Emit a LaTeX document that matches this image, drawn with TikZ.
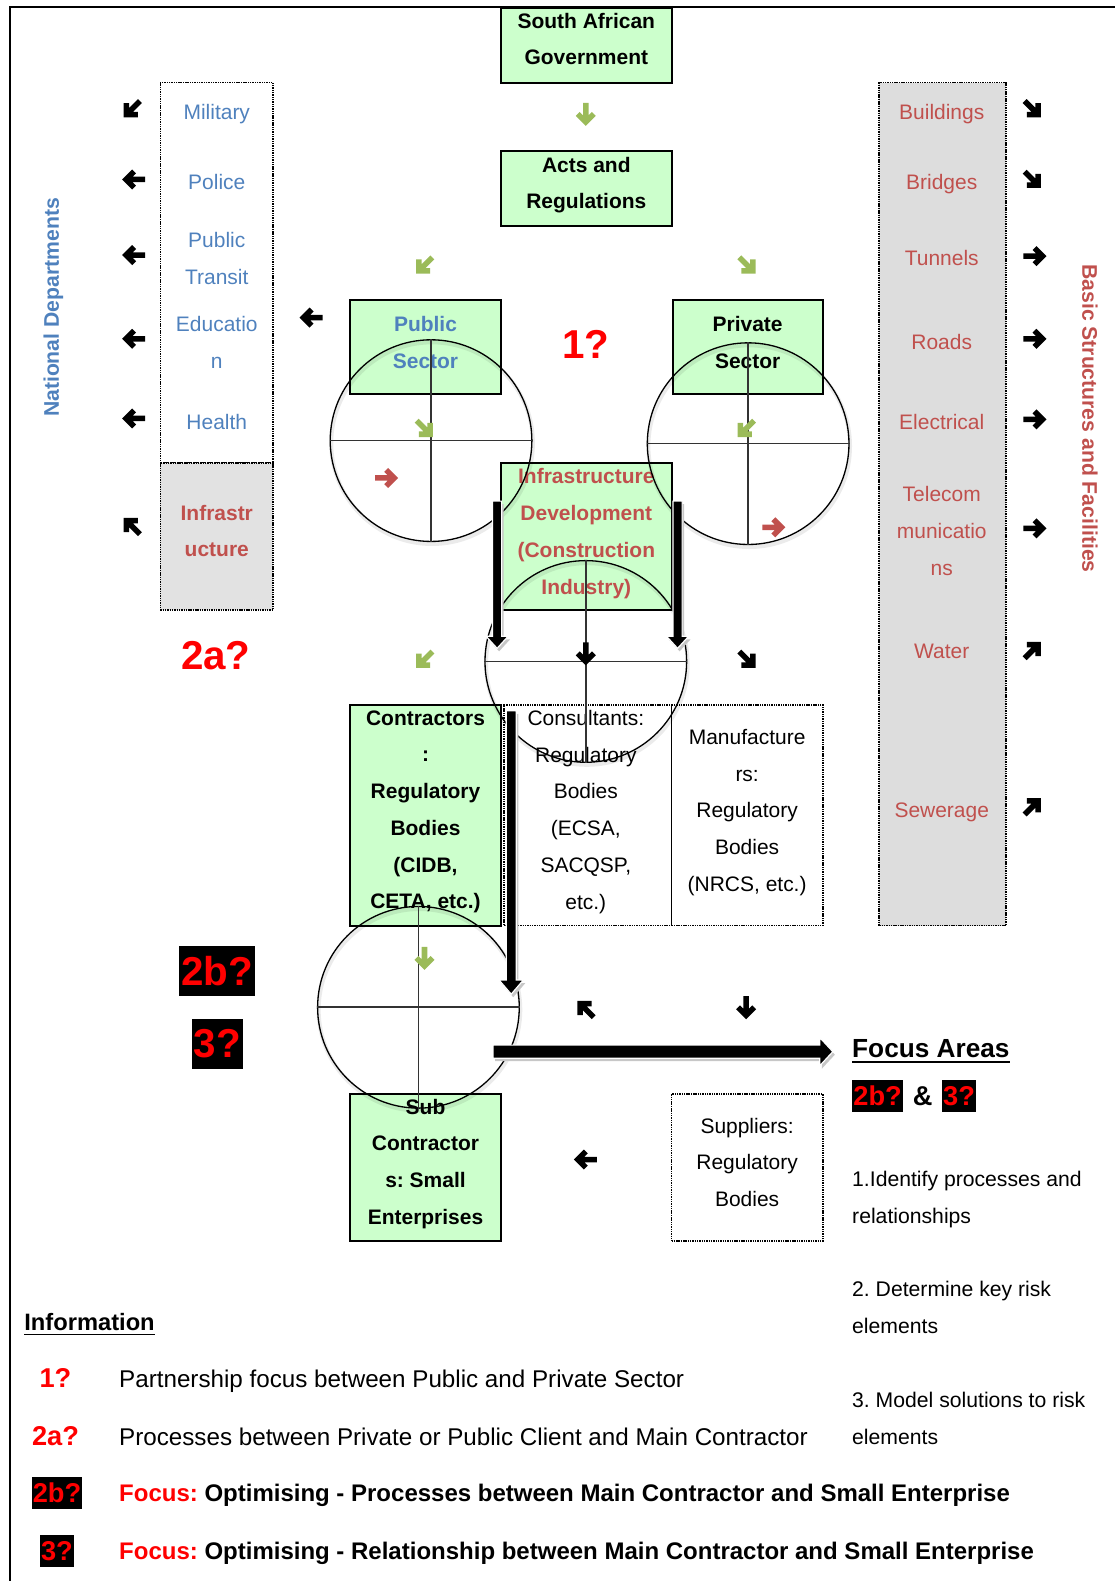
\documentclass[tikz,border=0pt]{standalone}
\usepackage{fontspec}
\setmainfont{Liberation Sans}
\frenchspacing
\definecolor{boxgreen}{RGB}{204,255,204}
\definecolor{argreen}{RGB}{155,187,89}
\definecolor{dred}{RGB}{192,80,77}
\definecolor{dblue}{RGB}{79,129,189}
\definecolor{colgrey}{RGB}{221,221,221}
\definecolor{hred}{RGB}{255,0,0}

% heavy chevron arrow glyph: x, y, direction angle, colour
\newcommand\darr[4]{\begin{scope}[shift={(#1,#2)},rotate=#3]
  \draw[#4,line width=5.5pt,line join=miter,miter limit=10] (-11,0) -- (6,0) (0,-8) -- (8,0) -- (0,8);
\end{scope}}
% thick block arrow with a soft shadow and a white rim
\newcommand\blockarr[1]{\fill[black!22,shift={(2,3)}] #1;
  \filldraw[fill=black,draw=white,line width=1.2pt] #1;}

\begin{document}
\begin{tikzpicture}[x=1pt,y=-1pt,
  gbox/.style={draw=black,line width=2pt,fill=boxgreen,inner sep=0pt,outer sep=0pt},
  dbox/.style={draw=black,line width=1.6pt,dash pattern=on 1.4pt off 0.9pt,inner sep=0pt,outer sep=0pt},
  tx/.style={inner sep=0pt,align=center,font=\fontsize{20.8}{36.4}\selectfont,
    execute at begin node=\strut},
  bx/.style={tx,font=\bfseries\fontsize{20.8}{36.4}\selectfont},
  ml/.style={yshift=-5.5pt},
  ring/.style={circle,draw=black,line width=1.3pt,minimum size=200pt,inner sep=0pt},
  ringsh/.style={circle,draw=black,draw opacity=0.08,line width=4pt,minimum size=200pt,inner sep=0pt},
  cross/.style={draw=black!80,line width=1.6pt},
  big/.style={inner sep=0pt,font=\bfseries\fontsize{40}{44}\selectfont,text=hred},
  qbig/.style={fill=black,text=hred,font=\bfseries\fontsize{40}{44}\selectfont,
    text height=29pt,text depth=0.5pt,inner ysep=10pt,inner xsep=2pt},
  qsmall/.style={fill=black,text=hred,font=\bfseries\fontsize{27}{30}\selectfont,
    text height=19.5pt,text depth=0.5pt,inner ysep=6pt,inner xsep=1.2pt},
  infot/.style={inner sep=0pt,anchor=west,font=\fontsize{24}{42}\selectfont,execute at begin node=\strut},
  infob/.style={infot,font=\bfseries\fontsize{23.8}{42}\selectfont},
  focl/.style={inner sep=0pt,anchor=west,align=left,font=\fontsize{21}{36.8}\selectfont,
    execute at begin node=\strut,ml},
  qlab/.style={inner sep=0pt,font=\bfseries\fontsize{27}{30}\selectfont,text=hred}]

\useasboundingbox (0,0) rectangle (1106,1568);

% page frame
\draw[line width=2pt] (10,1568) -- (10,7) -- (1106,7);

% side columns and dotted boxes
\node[dbox,minimum width=112pt,minimum height=377pt] (natcol) at (215,270.5) {};
\node[dbox,fill=colgrey!85,minimum width=112pt,minimum height=146pt] (natinf) at (215,532) {};
\node[dbox,fill=colgrey,minimum width=126pt,minimum height=836pt] (basecol) at (935,500) {};
\node[dbox,minimum width=166pt,minimum height=219pt] (cons) at (583,808.5) {};
\node[dbox,minimum width=150pt,minimum height=219pt] (manu) at (741,808.5) {};
\node[dbox,minimum width=150pt,minimum height=146pt] (supp) at (741,1158) {};

% green boxes
\node[gbox,minimum width=169pt,minimum height=75pt] (sag) at (581.5,45) {};
\node[gbox,minimum width=169pt,minimum height=74pt] (acts) at (581.5,187) {};
\node[gbox,minimum width=150pt,minimum height=93pt] (pub) at (422,344.5) {};
\node[gbox,minimum width=149pt,minimum height=93pt] (priv) at (741.5,344.5) {};
\node[gbox,minimum width=169pt,minimum height=146pt] (infra) at (581.5,532) {};
\node[gbox,minimum width=150pt,minimum height=219pt] (contr) at (422,808.5) {};
\node[gbox,minimum width=150pt,minimum height=146pt] (sub) at (422,1158) {};

% soft shadows under the quadrant rings
\node[ringsh] (cpub-s) at (428.5,439.5) {};
\node[ringsh] (cpriv-s) at (743,442.5) {};
\node[ringsh] (cmid-s) at (582,658.5) {};
\node[ringsh] (clow-s) at (416,1001.5) {};

% box texts
\node[bx,ml] (sag-t) at (581.5,38.5) {South African\\Government};
\node[bx,ml] (acts-t) at (581.5,181.5) {Acts and\\Regulations};
\node[bx,ml,text=dblue] (pub-t) at (422,339.5) {Public\\Sector};
\node[bx,ml] (priv-t) at (741.5,339.5) {Private\\Sector};
\node[big] (q1) at (581,342) {1?};
\node[bx,ml,text=dred] (infra-t) at (581.5,527) {Infrastructure\\Development\\(Construction\\Industry)};
\node[bx,ml] (contr-t) at (422,803) {Contractors\\:\\Regulatory\\Bodies\\(CIDB,\\CETA, etc.)};
\node[tx,ml] (cons-t) at (581,803) {Consultants:\\Regulatory\\Bodies\\(ECSA,\\SACQSP,\\etc.)};
\node[tx,ml] (manu-t) at (741,803.5) {Manufacture\\rs:\\Regulatory\\Bodies\\(NRCS, etc.)};
\node[bx,ml] (sub-t) at (422,1152) {Sub\\Contractor\\s: Small\\Enterprises};
\node[tx,ml] (supp-t) at (741,1152.5) {Suppliers:\\Regulatory\\Bodies};

% national departments column
\node[tx,text=dblue] (mil) at (215,111) {Military};
\node[tx,text=dblue] (pol) at (215,181) {Police};
\node[tx,ml,text=dblue] (tra) at (215,256) {Public\\Transit};
\node[tx,ml,text=dblue] (edu) at (215,339.5) {Educatio\\n};
\node[tx,text=dblue] (hea) at (215,419) {Health};
\node[bx,ml,text=dred] (inf) at (215,526.5) {Infrastr\\ucture};
\node[inner sep=0pt,rotate=90,text=dblue,font=\bfseries\fontsize{21}{24}\selectfont] (natdep) at (53,305) {National Departments};

% basic structures column
\node[tx,text=dred] (bld) at (934,111) {Buildings};
\node[tx,text=dred] (brg) at (934,181) {Bridges};
\node[tx,text=dred] (tun) at (934,256) {Tunnels};
\node[tx,text=dred] (rds) at (934,339) {Roads};
\node[tx,text=dred] (ele) at (934,419) {Electrical};
\node[tx,ml,text=dred] (tel) at (934,526.5) {Telecom\\municatio\\ns};
\node[tx,text=dred] (wat) at (934,646) {Water};
\node[tx,text=dred] (sew) at (934,803) {Sewerage};
\node[inner sep=0pt,rotate=-90,text=dred,font=\bfseries\fontsize{21}{24}\selectfont] (basic) at (1081,415) {Basic Structures and Facilities};

% question markers
\node[big] (q2a) at (214,650) {2a?};
\node[qbig] (q2b) at (215.5,963) {2b?};
\node[qbig] (q3) at (215.5,1035) {3?};

% focus areas
\node[inner sep=0pt,anchor=west,font=\bfseries\fontsize{26}{45}\selectfont,execute at begin node=\strut] (fa) at (845,1040) {Focus Areas};
\draw[line width=1.6pt] ([yshift=-4.5pt]fa.base west) -- ([yshift=-4.5pt]fa.base east);
\node[qsmall,anchor=west] (fa2b) at (845,1087) {2b?};
\node[inner sep=0pt,font=\bfseries\fontsize{27}{30}\selectfont] (famp) at (915,1087) {\&};
\node[qsmall,anchor=west] (fa3) at (934,1087) {3?};
\node[focl] (fl1) at (845,1187.5) {1.Identify processes and\\relationships};
\node[focl] (fl2) at (845,1297) {2. Determine key risk\\elements};
\node[focl] (fl3) at (845,1406.5) {3. Model solutions to risk\\elements};

% information legend
\node[inner sep=0pt,anchor=west,font=\bfseries\fontsize{23.5}{41}\selectfont,execute at begin node=\strut] (info) at (24,1311) {Information};
\draw[line width=1.5pt] ([yshift=-4.5pt]info.base west) -- ([yshift=-4.5pt]info.base east);
\node[qlab] (i1) at (55,1367) {1?};
\node[infot] (i1t) at (118,1368) {Partnership focus between Public and Private Sector};
\node[qlab] (i2) at (55,1424) {2a?};
\node[infot] (i2t) at (118,1425) {Processes between Private or Public Client and Main Contractor};
\node[qsmall] (i3) at (56.5,1481) {2b?};
\node[infob] (i3t) at (118,1481) {\textcolor{hred}{Focus:} Optimising - Processes between Main Contractor and Small Enterprise};
\node[qsmall] (i4) at (56.5,1538) {3?};
\node[infob] (i4t) at (118,1538) {\textcolor{hred}{Focus:} Optimising - Relationship between Main Contractor and Small Enterprise};

% quadrant rings
\node[ring] (cpub) at (427.5,437) {};
\node[ring] (cpriv) at (742,440) {};
\node[ring] (cmid) at (581,656) {};
\node[ring] (clow) at (415,999) {};
\foreach \c in {cpub,cpriv,cmid,clow}
  \draw[cross] (\c.north) -- (\c.south) (\c.west) -- (\c.east);

% green arrows
\darr{581}{113}{270}{argreen}
\darr{421}{263}{225}{argreen}
\darr{741}{263}{315}{argreen}
\darr{421}{425}{315}{argreen}
\darr{740}{425}{225}{argreen}
\darr{421}{654}{225}{argreen}
\darr{421}{950}{270}{argreen}
% red arrows
\darr{383}{474}{0}{dred}
\darr{767}{523}{0}{dred}
% black arrows, left column
\darr{131}{108}{225}{black}
\darr{133}{178}{180}{black}
\darr{133}{253}{180}{black}
\darr{133}{336}{180}{black}
\darr{133}{415}{180}{black}
\darr{131}{522}{135}{black}
\darr{309}{315}{180}{black}
% black arrows, right column
\darr{1024}{108}{315}{black}
\darr{1024}{178}{315}{black}
\darr{1026}{254}{0}{black}
\darr{1026}{336}{0}{black}
\darr{1026}{416}{0}{black}
\darr{1026}{524}{0}{black}
\darr{1024}{645}{45}{black}
\darr{1024}{800}{45}{black}
% black arrows, centre
\darr{581}{648}{270}{black}
\darr{741}{654}{315}{black}
\darr{581}{1001}{135}{black}
\darr{740}{999}{270}{black}
\darr{581}{1150}{180}{black}

% block arrows
\blockarr{(488.5,497) -- (497.5,497) -- (497.5,631) -- (504,631) -- (493,643) -- (482,631) -- (488.5,631) -- cycle}
\blockarr{(667.5,497) -- (676.5,497) -- (676.5,631) -- (683,631) -- (672,643) -- (661,631) -- (667.5,631) -- cycle}
\blockarr{(502,705) -- (512,705) -- (512,972) -- (519,972) -- (507,986) -- (495,972) -- (502,972) -- cycle}
\blockarr{(489,1036.5) -- (813,1036.5) -- (813,1029) -- (826,1043) -- (813,1057) -- (813,1049.5) -- (489,1049.5) -- cycle}
\end{tikzpicture}
\end{document}
